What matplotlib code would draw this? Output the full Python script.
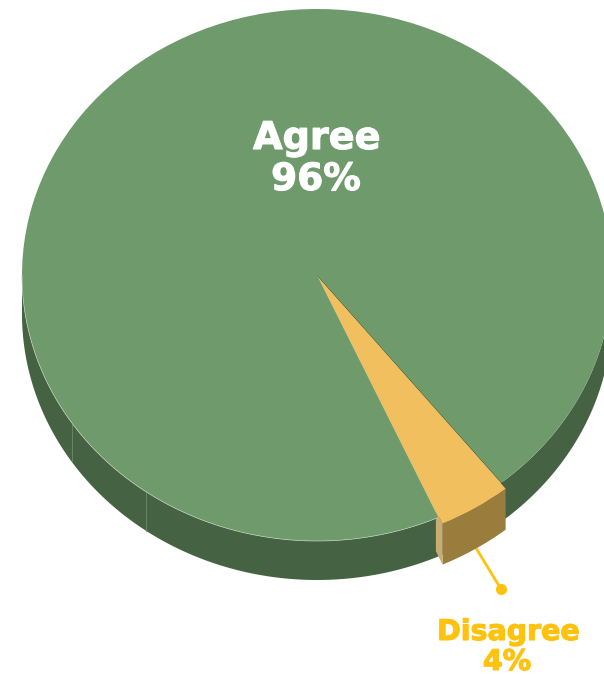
import numpy as np
from matplotlib import pyplot as plt
from matplotlib import patheffects as pe

# values
labels = ['Agree', 'Disagree']
shares = [96, 4]
top_colors = ['#6e9a6c', '#f2bf5e']
wall_colors = ['#456343', '#9a7c3c']
start_angle = -51.3
explode = [0, 0.027]
depth = 39 / 266
slice_depth = 41 / 266
seam_angles = [-146.1, -125.5]

W, H = 604, 675
cx, cy, rx, ry = 317, 275, 295, 266

fig = plt.figure(figsize=(W / 100, H / 100), dpi=100)
ax = fig.add_axes([0, 0, 1, 1])

split = start_angle + shares[0] / sum(shares) * 360 - 360
mid = np.radians((split + start_angle) / 2)
off_x, off_y = explode[1] * np.cos(mid), explode[1] * np.sin(mid)


def wall(a0, a1, color, z, d, dx=0, dy=0):
    t = np.radians(np.linspace(a0, a1, 200))
    x = np.cos(t) + dx
    y = np.sin(t) + dy
    ax.fill(np.r_[x, x[::-1]], np.r_[y, y[::-1] - d], color=color, lw=0, zorder=z)


# side walls, only the front half shows
wall(-180, 0, wall_colors[0], 1, depth)
wall(split, start_angle, wall_colors[1], 2, slice_depth, off_x, off_y)

# cut face on the left side of the small slice
t = np.radians(split)
r_in = 0.945
fx = np.array([1, r_in, r_in, 1]) * np.cos(t) + off_x
fy = np.array([1, r_in, r_in, 1]) * np.sin(t) + off_y - np.array([0, 0, slice_depth, slice_depth])
ax.fill(fx, fy, color='#c8ad72', lw=0, zorder=2)

# seams in the dark wall
for a in seam_angles:
    t = np.radians(a)
    ax.plot([np.cos(t)] * 2, [np.sin(t), np.sin(t) - depth], color='#6d8a69', lw=0.6, zorder=2)

# gap left behind the pulled out slice, only its right side reads as a dark line
t = np.radians(np.linspace(split, start_angle, 50))
ax.fill(np.r_[0, np.cos(t)], np.r_[0, np.sin(t)], color=top_colors[1], lw=0, zorder=2.5)
t = np.radians(start_angle)
ax.plot([0, np.cos(t)], [0, np.sin(t)], color='#4a5a3c', lw=0.8, zorder=2.6)

# top face
wedges, _ = ax.pie(shares, colors=top_colors, startangle=start_angle, radius=1,
                   explode=explode, wedgeprops={'linewidth': 0})
for w in wedges:
    w.set_zorder(3)
ax.set_aspect('auto')

# thin rim on the front left
t = np.radians(np.linspace(-180, split, 200))
ax.plot(np.cos(t), np.sin(t), color='#b9cdb5', lw=0.5, zorder=4)

# leader for the small slice
dot_x, dot_y = (501 - cx) / rx, (cy - 589) / ry
ax.plot([np.cos(mid) + off_x, dot_x], [np.sin(mid) + off_y - depth, dot_y], color='#ffc20e', lw=2, zorder=0.5)
ax.plot([dot_x], [dot_y], 'o', color='#ffc20e', ms=8, mew=0, zorder=0.5)


def label(px, py, s, color, size):
    ax.text((px - cx) / rx, (cy - py) / ry, s, color=color, fontsize=size, fontweight='bold',
            family='DejaVu Sans', ha='center', va='center', zorder=5,
            path_effects=[pe.withStroke(linewidth=0.8, foreground=color)])


label(317, 139, labels[0], 'white', 27.5)
label(316, 180, f'{shares[0]}%', 'white', 27)
label(508.5, 632, labels[1], '#ffc20e', 20.5)
label(507, 662, f'{shares[1]}%', '#ffc20e', 20.5)

ax.set_xlim(-cx / rx, (W - cx) / rx)
ax.set_ylim((cy - H) / ry, cy / ry)
ax.axis('off')

fig.savefig('out.png', dpi=100)
